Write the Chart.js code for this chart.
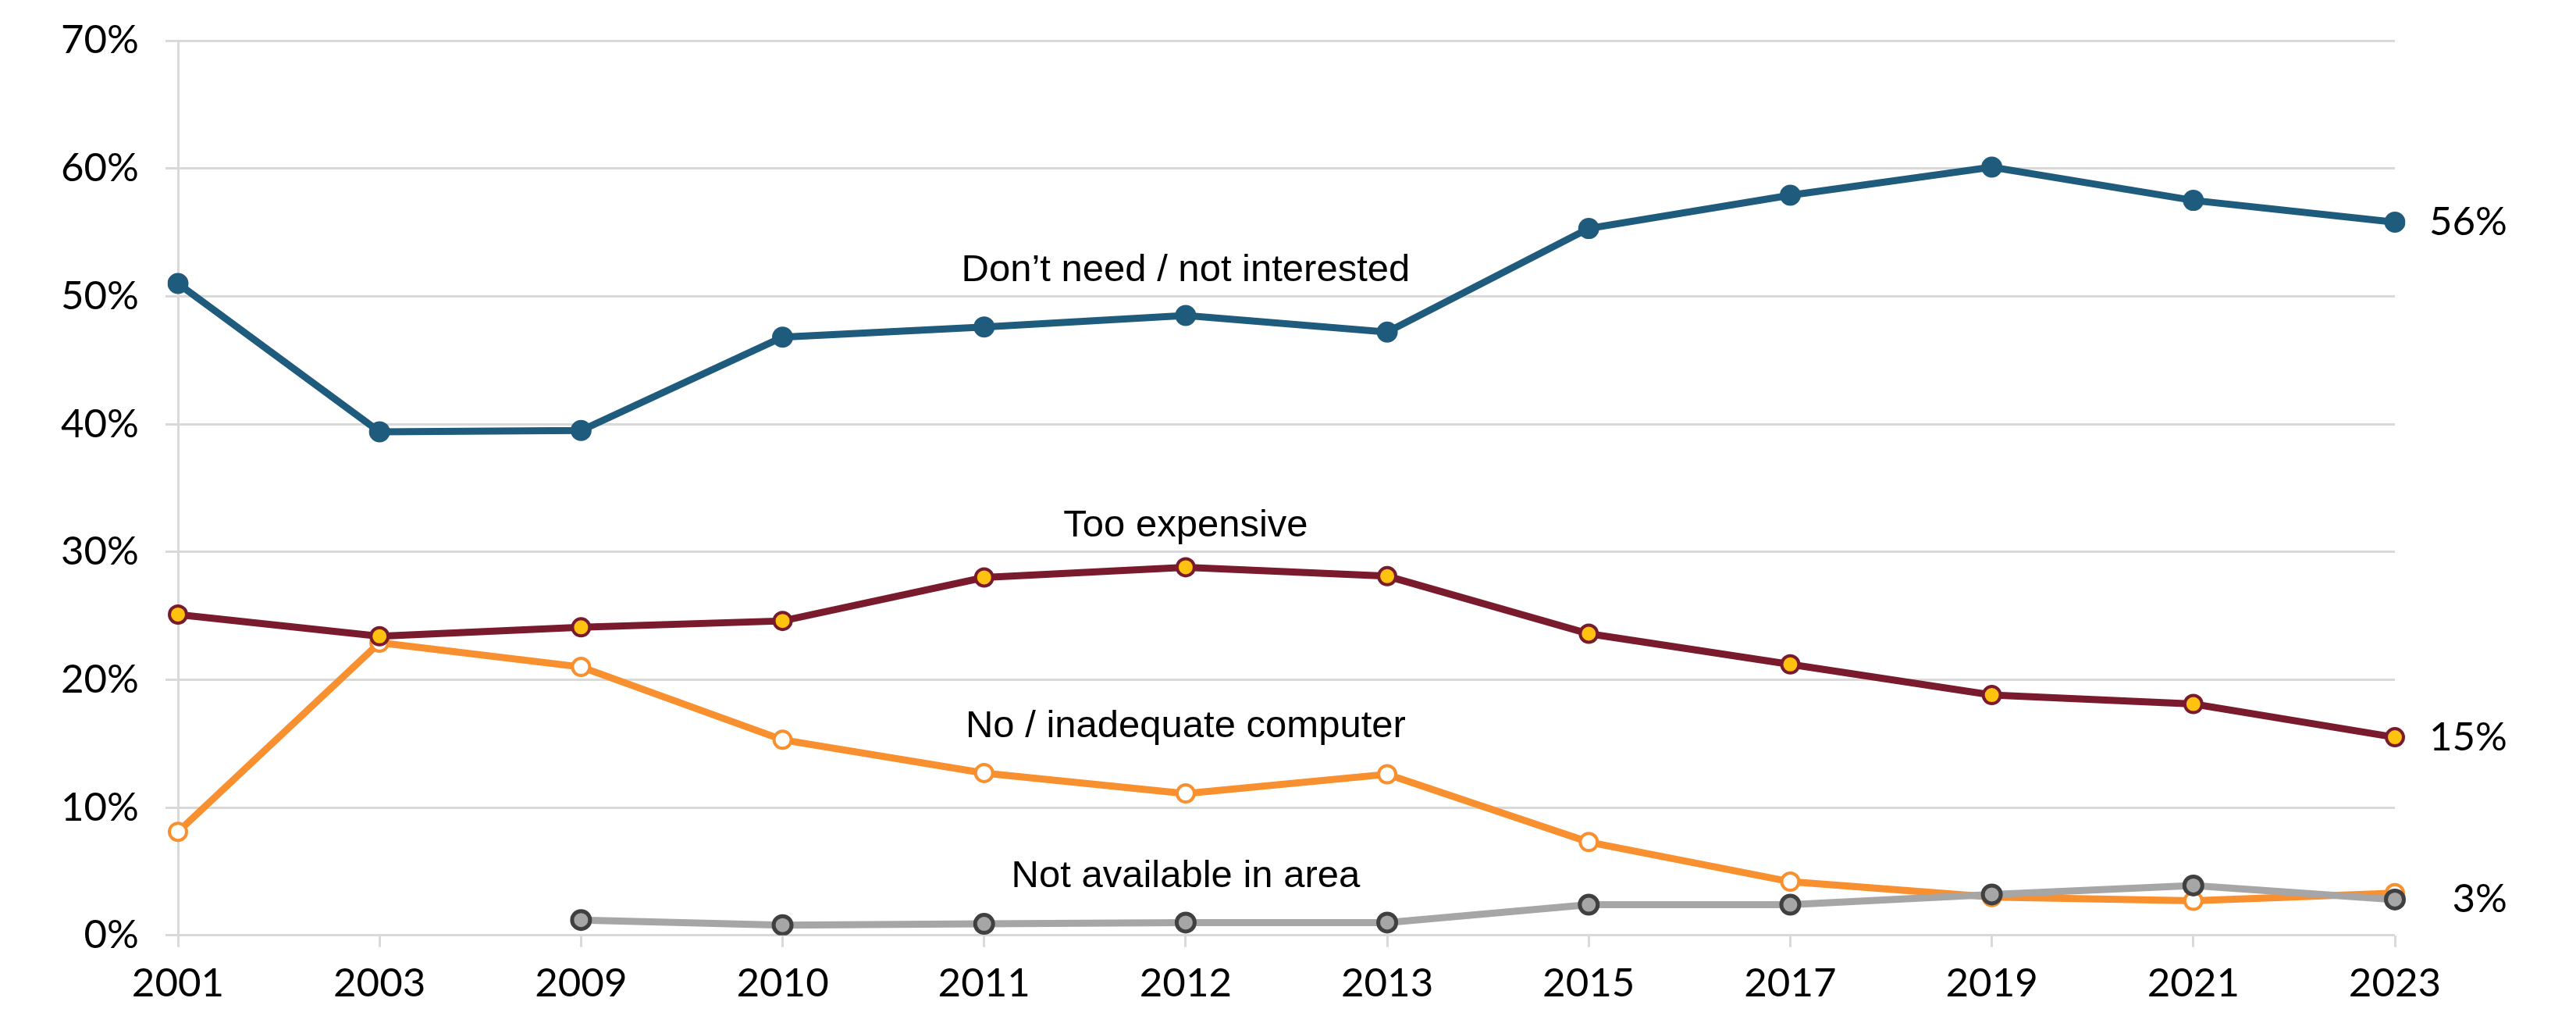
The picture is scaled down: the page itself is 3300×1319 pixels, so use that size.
<!DOCTYPE html>
<html><head><meta charset="utf-8">
<script src="https://cdn.jsdelivr.net/npm/chart.js@4"></script>
<style>html,body{margin:0;padding:0;background:#fff;} #wrap{width:3300px;height:1319px;}</style>
</head><body><div id="wrap"><canvas id="c" width="3300" height="1319"></canvas></div>
<script>
const years = ['2001','2003','2009','2010','2011','2012','2013','2015','2017','2019','2021','2023'];
const dontNeed     = [51.0, 39.4, 39.5, 46.8, 47.6, 48.5, 47.2, 55.3, 57.9, 60.1, 57.5, 55.8];
const tooExpensive = [25.1, 23.4, 24.1, 24.6, 28.0, 28.8, 28.1, 23.6, 21.2, 18.8, 18.1, 15.5];
const noComputer   = [ 8.1, 22.9, 21.0, 15.3, 12.7, 11.1, 12.6,  7.3,  4.2,  3.0,  2.7,  3.3];
const notAvailable = [null, null,  1.2,  0.8,  0.9,  1.0,  1.0,  2.4,  2.4,  3.2,  3.9,  2.8];
const seriesNames = ['Don\u2019t need / not interested', 'Too expensive', 'Not available in area', 'No / inadequate computer'];
const endLabels = ['56%', '15%', '3%', null];
const yTickValues = [0, 10, 20, 30, 40, 50, 60, 70];

const TICK_FONT = {family: 'Lato', size: 51};
const NAME_FONT = '49px "Liberation Sans", Arial, sans-serif';

// where each series name sits (value along y axis, baseline) - layout only
const nameAnchors = [51.2, 31.2, 3.8, 15.5];

const labelPlugin = {
  id: 'labels',
  afterDatasetsDraw(chart) {
    const ctx = chart.ctx;
    const xs = chart.scales.x, ys = chart.scales.y;
    ctx.save();
    ctx.fillStyle = '#000';
    ctx.font = NAME_FONT;
    ctx.textAlign = 'center';
    ctx.textBaseline = 'alphabetic';
    const cx = xs.getPixelForValue(years.indexOf('2012'));
    seriesNames.forEach((n, i) => {
      ctx.fillText(n, cx, ys.getPixelForValue(nameAnchors[i]));
    });
    ctx.font = TICK_FONT.size + 'px ' + TICK_FONT.family;
    ctx.textAlign = 'right';
    ctx.textBaseline = 'middle';
    chart.data.datasets.forEach((ds, i) => {
      if (!endLabels[i]) return;
      const meta = chart.getDatasetMeta(i);
      const pt = meta.data[meta.data.length - 1];
      ctx.fillText(endLabels[i], chart.chartArea.right + 144, pt.y);
    });
    ctx.restore();
  }
};

new Chart(document.getElementById('c'), {
  type: 'line',
  data: {
    labels: years,
    datasets: [
      {label: seriesNames[0], data: dontNeed, borderColor: '#1F5B7C', backgroundColor: '#1F5B7C',
       borderWidth: 9, pointRadius: 13.5, pointBorderWidth: 0, pointBackgroundColor: '#1F5B7C'},
      {label: seriesNames[1], data: tooExpensive, borderColor: '#7A1B2D', backgroundColor: '#FFC20E',
       borderWidth: 9, pointRadius: 11, pointBorderWidth: 4, pointBorderColor: '#7A1B2D', pointBackgroundColor: '#FFC20E'},
      {label: seriesNames[2], data: notAvailable, borderColor: '#A6A6A6', backgroundColor: '#A6A6A6',
       borderWidth: 9, pointRadius: 11.5, pointBorderWidth: 5, pointBorderColor: '#404040', pointBackgroundColor: '#A6A6A6'},
      {label: seriesNames[3], data: noComputer, borderColor: '#F8902F', backgroundColor: '#FFFFFF',
       borderWidth: 9, pointRadius: 11, pointBorderWidth: 4, pointBorderColor: '#F8902F', pointBackgroundColor: '#FFFFFF'}
    ]
  },
  options: {
    responsive: false,
    devicePixelRatio: 1,
    animation: false,
    spanGaps: false,
    layout: {padding: {left: 0, right: 232, top: 52, bottom: 13}},
    plugins: {legend: {display: false}, tooltip: {enabled: false}},
    elements: {line: {tension: 0}},
    scales: {
      x: {
        offset: false,
        grid: {drawOnChartArea: false, drawTicks: true, tickLength: 15, color: '#D9D9D9', lineWidth: 3},
        border: {display: false},
        ticks: {font: TICK_FONT, color: '#000', padding: 16, maxRotation: 0, autoSkip: false}
      },
      y: {
        min: 0, max: 70,
        afterFit(scale) { scale.width = 228; scale.paddingTop = 0; scale.paddingBottom = 0; },
        afterBuildTicks(scale) { scale.ticks = yTickValues.map(v => ({value: v})); },
        grid: {color: '#D9D9D9', lineWidth: 3, tickLength: 16},
        border: {display: true, color: '#D9D9D9', width: 3},
        ticks: {font: TICK_FONT, color: '#000', padding: 34, callback: v => v + '%'}
      }
    }
  },
  plugins: [labelPlugin]
});
</script></body></html>
